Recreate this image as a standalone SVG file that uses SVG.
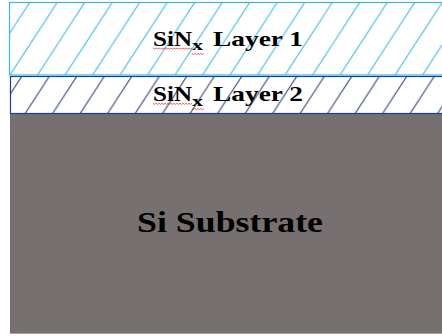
<svg xmlns="http://www.w3.org/2000/svg" width="442" height="336" viewBox="0 0 442 336">
<style>
.lbl{font-family:"Liberation Serif","Times New Roman",serif;font-weight:bold;fill:#000}
.sq{fill:none;stroke:#e0403a;stroke-width:0.8}
</style>
<defs>
<pattern id="h1" patternUnits="userSpaceOnUse" x="30" y="2" width="27.5" height="42.3">
<path d="M27.5 0L0 42.3M55 0L27.5 42.3M0 0L-27.5 42.3" stroke="#44b8ec" stroke-width="1.1"/>
</pattern>
<pattern id="h2" patternUnits="userSpaceOnUse" x="22" y="76" width="27.5" height="42.3">
<path d="M27.5 0L0 42.3M55 0L27.5 42.3M0 0L-27.5 42.3" stroke="#34467e" stroke-width="1.1"/>
</pattern>
</defs>
<rect width="442" height="336" fill="#fff"/>
<g id="substrate">
<rect x="10" y="114" width="432" height="219" fill="#767170"/>
<rect x="10" y="333" width="432" height="1" fill="#a8a5a4"/>
<text class="lbl" x="137" y="231.5" font-size="29" textLength="186" lengthAdjust="spacingAndGlyphs">Si Substrate</text>
</g>
<g id="layer2">
<rect x="10.5" y="76.5" width="433" height="37" fill="url(#h2)" stroke="#1f3d8e" stroke-width="1.2"/>
<text class="lbl" x="153" y="100.8" font-size="21.5" textLength="39" lengthAdjust="spacingAndGlyphs">SiN</text>
<text class="lbl" x="192" y="105.5" font-size="15" textLength="11" lengthAdjust="spacingAndGlyphs">x</text>
<text class="lbl" x="213" y="100.8" font-size="21.5" textLength="90" lengthAdjust="spacingAndGlyphs">Layer 2</text>
<path class="sq" d="M153 103.3l1.5 1.1 1.5 -1.1 1.5 1.1 1.5 -1.1 1.5 1.1 1.5 -1.1 1.5 1.1 1.5 -1.1 1.5 1.1 1.5 -1.1 1.5 1.1 1.5 -1.1 1.5 1.1 1.5 -1.1 1.5 1.1 1.5 -1.1 1.5 1.1 1.5 -1.1 1.5 1.1 1.5 -1.1 1.5 1.1 1.5 -1.1 1.5 1.1 1.5 -1.1 1.5 1.1 1.5 -1.1"/>
<path class="sq" d="M192 108.5l1.5 1.1 1.5 -1.1 1.5 1.1 1.5 -1.1 1.5 1.1 1.5 -1.1 1.5 1.1 1.5 -1.1"/>
</g>
<g id="layer1">
<rect x="9.5" y="2.5" width="434" height="72.5" fill="url(#h1)" stroke="#3fb4e6" stroke-width="1.2"/>
<text class="lbl" x="153" y="45.7" font-size="21.5" textLength="39" lengthAdjust="spacingAndGlyphs">SiN</text>
<text class="lbl" x="192" y="50.3" font-size="15" textLength="11" lengthAdjust="spacingAndGlyphs">x</text>
<text class="lbl" x="213" y="45.7" font-size="21.5" textLength="90" lengthAdjust="spacingAndGlyphs">Layer 1</text>
<path class="sq" d="M153 48l1.5 1.1 1.5 -1.1 1.5 1.1 1.5 -1.1 1.5 1.1 1.5 -1.1 1.5 1.1 1.5 -1.1 1.5 1.1 1.5 -1.1 1.5 1.1 1.5 -1.1 1.5 1.1 1.5 -1.1 1.5 1.1 1.5 -1.1 1.5 1.1 1.5 -1.1 1.5 1.1 1.5 -1.1 1.5 1.1 1.5 -1.1 1.5 1.1 1.5 -1.1 1.5 1.1 1.5 -1.1"/>
<path class="sq" d="M192 53.5l1.5 1.1 1.5 -1.1 1.5 1.1 1.5 -1.1 1.5 1.1 1.5 -1.1 1.5 1.1 1.5 -1.1"/>
</g>
<g id="connectors"/>
</svg>
